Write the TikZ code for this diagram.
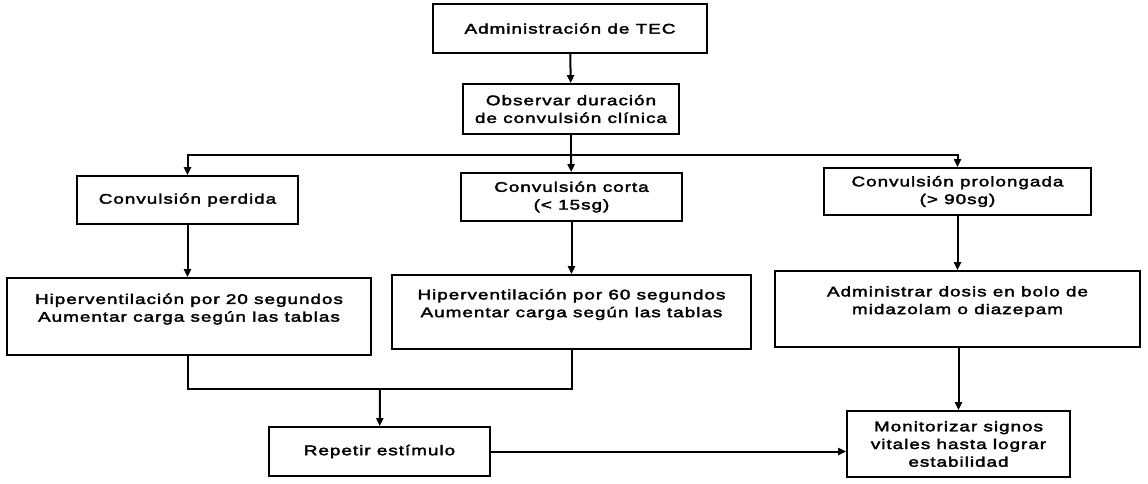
\documentclass[tikz,border=0pt]{standalone}
\usepackage{fontspec}
\setmainfont{Liberation Sans}[FakeStretch=1.35,LetterSpace=7,FakeBold=2.5]
\usetikzlibrary{positioning,calc,arrows.meta}
\tikzset{%
  flowBox/.style={%
    rectangle,
    draw=black,
    line width=1.8pt,
    fill=white,
    align=center,
    inner sep=0pt,
    font=\fontsize{14}{17.7}\selectfont
  },
  arrowLine/.style={%
    -{Triangle[length=8pt,width=7pt]},
    line width=2pt
  },
  plainLine/.style={%
    line width=2pt
  }
}

\begin{document}
\begin{tikzpicture}[x=1pt,y=-1pt]
  \useasboundingbox (0,0) rectangle (1148,483);

  \node[flowBox, minimum width=274pt, minimum height=49pt] (admin) at (570,28.5) {Administración de TEC};
  \node[flowBox, minimum width=216pt, minimum height=50pt] (observar) at (571,109) {Observar duración\\de convulsión clínica};

  \node[flowBox, minimum width=221pt, minimum height=48pt] (perdida) at (187.5,200) {Convulsión perdida};
  \node[flowBox, minimum width=221pt, minimum height=48pt] (corta) at (571.5,197) {Convulsión corta\\(< 15sg)};
  \node[flowBox, minimum width=267pt, minimum height=47pt] (prolongada) at (957.5,191.5) {Convulsión prolongada\\(> 90sg)};

  \node[flowBox, minimum width=364pt, minimum height=77pt] (hipVeinte) at (189,316.5) {Hiperventilación por 20 segundos\\Aumentar carga según las tablas\\\mbox{}};
  \node[flowBox, minimum width=359pt, minimum height=74pt] (hipSesenta) at (571.5,312) {Hiperventilación por 60 segundos\\Aumentar carga según las tablas\\\mbox{}};
  \node[flowBox, minimum width=365pt, minimum height=76pt] (dosis) at (957.5,309) {Administrar dosis en bolo de\\midazolam o diazepam\\\mbox{}};

  \node[flowBox, minimum width=221pt, minimum height=49pt] (repetir) at (379.5,451.5) {Repetir estímulo};
  \node[flowBox, minimum width=223pt, minimum height=66pt] (monitor) at (958.5,444) {Monitorizar signos\\vitales hasta lograr\\estabilidad};

  \coordinate (split) at (571,155);
  \coordinate (join) at (380,389);

  \draw[arrowLine] (admin) -- (observar);
  \draw[plainLine] (observar) -- (split);
  \draw[arrowLine] (split) -| (perdida);
  \draw[arrowLine] (split) -- (corta);
  \draw[arrowLine] (split) -| (prolongada);

  \draw[arrowLine] (perdida) -- (perdida |- hipVeinte.north);
  \draw[arrowLine] (corta) -- (corta |- hipSesenta.north);
  \draw[arrowLine] (prolongada) -- (prolongada |- dosis.north);

  \draw[plainLine] (hipVeinte.south -| perdida) |- (join);
  \draw[plainLine] (hipSesenta.south -| corta) |- (join);
  \draw[arrowLine] (join) -- (repetir);

  \draw[arrowLine] (dosis.south -| monitor) -- (monitor);
  \draw[arrowLine] (repetir.east) -- (repetir.east -| monitor.west);
\end{tikzpicture}
\end{document}
